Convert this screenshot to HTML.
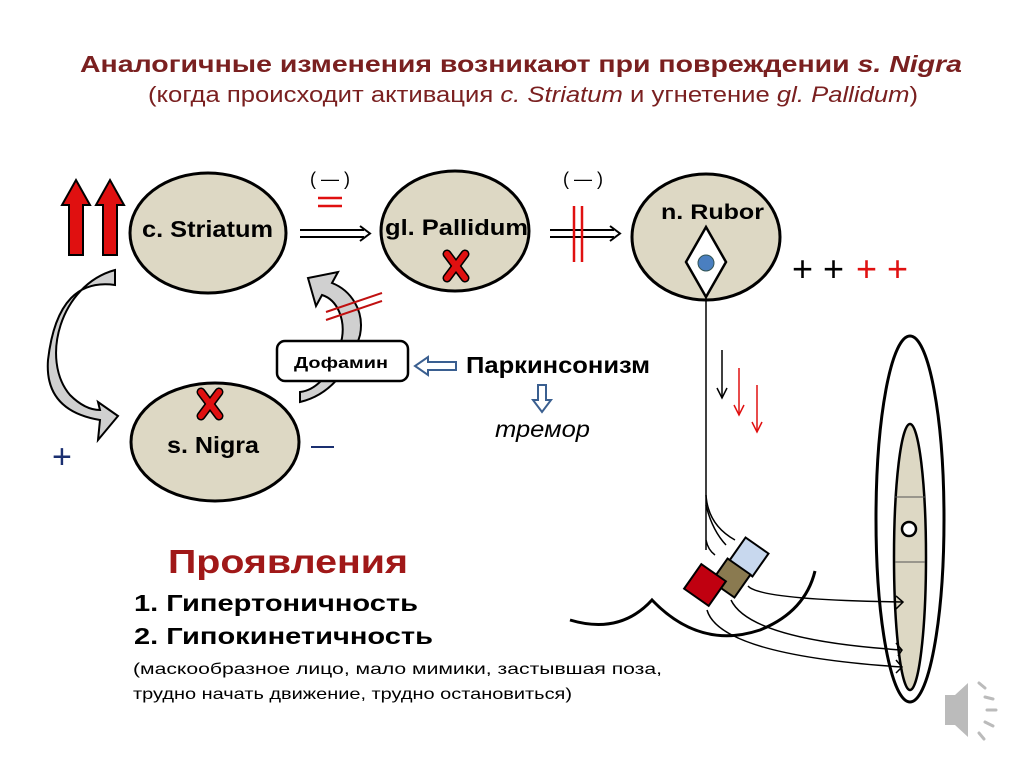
<!DOCTYPE html>
<html><head><meta charset="utf-8"><style>
html,body{margin:0;padding:0;background:#fff;}
svg{display:block;font-family:"Liberation Sans",Arial,sans-serif;}
</style></head><body>
<svg width="1024" height="767" viewBox="0 0 1024 767" xmlns="http://www.w3.org/2000/svg">
<rect width="1024" height="767" fill="#fff"/>
<text x="80" y="72" font-size="23" font-weight="bold" fill="#7a2020" textLength="882" lengthAdjust="spacingAndGlyphs">Аналогичные изменения возникают при повреждении <tspan font-style="italic">s. Nigra</tspan></text>
<text x="148" y="102" font-size="22" fill="#7a2020" textLength="770" lengthAdjust="spacingAndGlyphs">(когда происходит активация <tspan font-style="italic">c. Striatum</tspan> и угнетение <tspan font-style="italic">gl. Pallidum</tspan>)</text>

<!-- red up arrows -->
<g fill="#e01010" stroke="#000" stroke-width="2">
<path d="M69 255 V205 H62 L76 180 L90 205 H83 V255 Z"/>
<path d="M103 255 V205 H96 L110 180 L124 205 H117 V255 Z"/>
</g>

<!-- gray curved arrows -->
<path d="M115 270 C60 285 40 360 70 395 C80 405 90 410 100 410 L98 402 L118 416 L98 440 L100 420 C70 415 45 400 48 360 C55 300 80 280 115 285 Z" fill="#d0d0d0" stroke="#000" stroke-width="2"/>
<path d="M300 402 C330 395 350 370 360 335 C365 310 350 290 332 283 L338 272 L308 278 L316 306 L322 295 C338 300 345 320 342 338 C335 370 318 390 300 392 Z" fill="#d0d0d0" stroke="#000" stroke-width="2"/>
<g stroke="#c01010" stroke-width="2"><line x1="326" y1="312" x2="382" y2="293"/><line x1="326" y1="320" x2="382" y2="301"/></g>

<!-- ellipses -->
<g fill="#ddd8c4" stroke="#000" stroke-width="3">
<ellipse cx="208" cy="233" rx="78" ry="60"/>
<ellipse cx="455" cy="231" rx="74" ry="60"/>
<ellipse cx="706" cy="237" rx="74" ry="63"/>
<ellipse cx="215" cy="442" rx="84" ry="59"/>
</g>
<text x="142" y="237" font-size="23" font-weight="bold" textLength="131" lengthAdjust="spacingAndGlyphs">c. Striatum</text>
<text x="385" y="235" font-size="22" font-weight="bold" textLength="143" lengthAdjust="spacingAndGlyphs">gl. Pallidum</text>
<text x="661" y="219" font-size="21" font-weight="bold" textLength="103" lengthAdjust="spacingAndGlyphs">n. Rubor</text>
<text x="167" y="453" font-size="23" font-weight="bold" textLength="92" lengthAdjust="spacingAndGlyphs">s. Nigra</text>

<!-- red X marks -->
<g stroke="#000" stroke-width="9" stroke-linecap="round"><line x1="447" y1="254" x2="465" y2="278"/><line x1="465" y1="254" x2="447" y2="278"/><line x1="201" y1="392" x2="219" y2="416"/><line x1="219" y1="392" x2="201" y2="416"/></g>
<g stroke="#e01010" stroke-width="6" stroke-linecap="round"><line x1="447" y1="254" x2="465" y2="278"/><line x1="465" y1="254" x2="447" y2="278"/><line x1="201" y1="392" x2="219" y2="416"/><line x1="219" y1="392" x2="201" y2="416"/></g>

<!-- horizontal double arrows -->
<g stroke="#000" stroke-width="2" fill="none">
<line x1="300" y1="230" x2="364" y2="230"/><line x1="300" y1="237" x2="364" y2="237"/>
<path d="M360 226 L370 233.5 L360 241"/>
<line x1="550" y1="230" x2="614" y2="230"/><line x1="550" y1="237" x2="614" y2="237"/>
<path d="M610 226 L620 233.5 L610 241"/>
</g>
<g stroke="#e01010" stroke-width="2.5"><line x1="574" y1="206" x2="574" y2="262"/><line x1="582" y1="206" x2="582" y2="262"/>
<line x1="318" y1="198" x2="342" y2="198"/><line x1="318" y1="206" x2="342" y2="206"/></g>
<text x="330" y="185" font-size="18" text-anchor="middle">( — )</text>
<text x="583" y="185" font-size="18" text-anchor="middle">( — )</text>

<!-- rubor diamond -->
<path d="M706 227 L726 262 L706 297 L686 262 Z" fill="#fff" stroke="#000" stroke-width="2.5"/>
<circle cx="706" cy="263" r="8" fill="#4a7fc0" stroke="#355" stroke-width="1"/>
<line x1="706" y1="297" x2="706" y2="550" stroke="#000" stroke-width="1.5"/>
<text x="792" y="281" font-size="36" fill="#000">+ +</text>
<text x="856" y="281" font-size="36" fill="#e01010">+ +</text>

<!-- dofamin -->
<rect x="277" y="341" width="131" height="40" rx="8" fill="#fff" stroke="#000" stroke-width="2.5"/>
<text x="294" y="368" font-size="16" font-weight="bold" textLength="94" lengthAdjust="spacingAndGlyphs">Дофамин</text>
<path d="M456 362 H428 V357 L415 366 L428 375 V370 H456 Z" fill="#fff" stroke="#3a5f90" stroke-width="2"/>
<text x="466" y="373" font-size="23" font-weight="bold" textLength="184" lengthAdjust="spacingAndGlyphs">Паркинсонизм</text>
<path d="M538 385 V400 H533 L542 412 L551 400 H546 V385 Z" fill="#fff" stroke="#3a5f90" stroke-width="2"/>
<text x="495" y="437" font-size="23" font-style="italic" textLength="95" lengthAdjust="spacingAndGlyphs">тремор</text>
<text x="52" y="468" font-size="34" fill="#1a2f70">+</text>
<line x1="311" y1="447" x2="334" y2="447" stroke="#1a2f70" stroke-width="2"/>

<!-- manifestations -->
<text x="168" y="573" font-size="33" font-weight="bold" fill="#a01818" textLength="240" lengthAdjust="spacingAndGlyphs">Проявления</text>
<text x="134" y="611" font-size="23" font-weight="bold" textLength="284" lengthAdjust="spacingAndGlyphs">1.  Гипертоничность</text>
<text x="134" y="644" font-size="23" font-weight="bold" textLength="299" lengthAdjust="spacingAndGlyphs">2.  Гипокинетичность</text>
<text x="133" y="674" font-size="16" textLength="529" lengthAdjust="spacingAndGlyphs">(маскообразное лицо, мало мимики, застывшая поза,</text>
<text x="133" y="699" font-size="16" textLength="439" lengthAdjust="spacingAndGlyphs">трудно начать движение, трудно остановиться)</text>

<!-- down arrows -->
<g stroke="#000" stroke-width="1.5" fill="none"><line x1="722" y1="350" x2="722" y2="398"/><path d="M717 388 L722 398 L727 388"/></g>
<g stroke="#e01010" stroke-width="1.5" fill="none"><line x1="739" y1="368" x2="739" y2="415"/><path d="M734 405 L739 415 L744 405"/><line x1="757" y1="385" x2="757" y2="432"/><path d="M752 422 L757 432 L762 422"/></g>

<!-- muscle -->
<ellipse cx="910" cy="519" rx="34" ry="183" fill="#fff" stroke="#000" stroke-width="3"/>
<ellipse cx="910" cy="557" rx="16" ry="133" fill="#ddd8c4" stroke="#000" stroke-width="2.5"/>
<line x1="895" y1="497" x2="925" y2="497" stroke="#555" stroke-width="1"/>
<line x1="895" y1="562" x2="925" y2="562" stroke="#555" stroke-width="1"/>
<circle cx="909" cy="529" r="7" fill="#fff" stroke="#000" stroke-width="2.5"/>

<!-- spinal cord curve -->
<path d="M570 620 Q620 635 652 600 Q700 650 760 630 Q805 612 815 571" fill="none" stroke="#000" stroke-width="3"/>
<!-- branches -->
<g stroke="#000" stroke-width="1.5" fill="none">
<path d="M706 495 Q708 525 735 540"/><path d="M706 505 Q712 530 726 545"/>
<path d="M706 540 Q708 550 715 555"/>
<path d="M748 586 Q760 600 903 602"/><path d="M896 596 L903 602 L896 609"/>
<path d="M731 600 Q750 640 902 650"/><path d="M896 643 L902 650 L898 656"/>
<path d="M707 610 Q720 655 902 667"/><path d="M896 660 L902 667 L896 673"/>
</g>
<g stroke="#000" stroke-width="2">
<rect x="735" y="543" width="28" height="28" fill="#c8d8ee" transform="rotate(35 749 557)"/>
<rect x="717" y="564" width="28" height="28" fill="#8a7a50" transform="rotate(35 731 578)"/>
<rect x="690" y="570" width="30" height="30" fill="#c00010" transform="rotate(35 705 585)"/>
</g>

<!-- speaker -->
<g fill="#bbb">
<path d="M945 695 H955 L968 683 V737 L955 725 H945 Z"/>
<g stroke="#bbb" stroke-width="3" stroke-linecap="round"><line x1="979" y1="683" x2="985" y2="688"/><line x1="985" y1="697" x2="993" y2="699"/><line x1="987" y1="710" x2="996" y2="710"/><line x1="985" y1="722" x2="993" y2="726"/><line x1="979" y1="733" x2="984" y2="739"/></g>
</g>
</svg>
</body></html>
